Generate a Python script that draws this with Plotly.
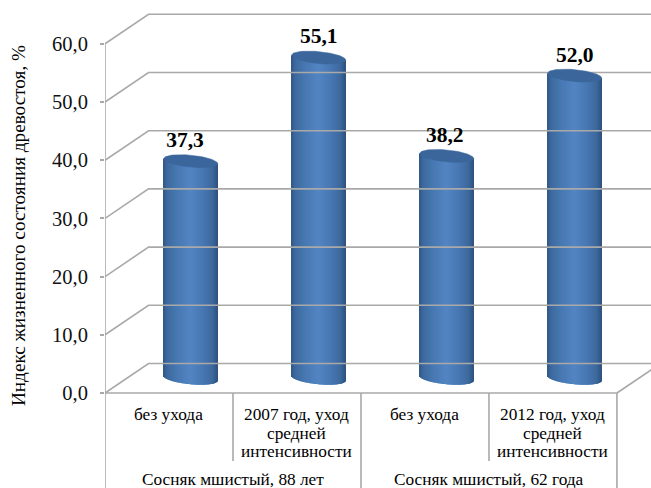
import numpy as np
import plotly.graph_objects as go

# Chart content
stand_labels = ["Сосняк мшистый, 88 лет", "Сосняк мшистый, 62 года"]
care_labels = [
    ["без ухода"],
    ["2007 год, уход", "средней", "интенсивности"],
    ["без ухода"],
    ["2012 год, уход", "средней", "интенсивности"],
]
vitality_index = [37.3, 55.1, 38.2, 52.0]
tick_values = [0, 10, 20, 30, 40, 50, 60]
tick_labels = ["0,0", "10,0", "20,0", "30,0", "40,0", "50,0", "60,0"]
y_title = "Индекс жизненного состояния древостоя, %"

# Pseudo-3D box: the back wall is offset from the front plane by this much
DEPTH_X = 0.34    # in category widths
DEPTH_Y = 5.07    # in index units
RADIUS = 0.211    # cylinder half width, category widths
RY = 1.03         # cap half height, index units
TILT = 0.43       # caps lean upward to the right by this much at the rim

SERIF = "Liberation Serif, Times New Roman, serif"
GRID = "#a9a9a9"
N = len(vitality_index)
X_MIN, X_MAX = -0.5, 3.766
Y_MIN, Y_MAX = -16.32, 67.53
LINE_STEP = 3.17  # spacing of category label lines, index units


def shade(u):
    """Horizontal cylinder shading for u in [-1, 1]."""
    stops_u = [-1.0, -0.85, -0.45, 0.0, 0.45, 0.85, 1.0]
    r = np.interp(u, stops_u, [47, 60, 72, 82, 72, 60, 44])
    g = np.interp(u, stops_u, [86, 105, 121, 132, 120, 103, 82])
    b = np.interp(u, stops_u, [132, 158, 180, 195, 180, 156, 128])
    return f"rgb({r:.0f},{g:.0f},{b:.0f})"


fig = go.Figure()


def line(xs, ys, width=1.6):
    fig.add_trace(go.Scatter(x=xs, y=ys, mode="lines", hoverinfo="skip",
                             line=dict(color=GRID, width=width), showlegend=False))


# Back wall grid and the diagonals that run back from the front axis
for v in tick_values:
    line([X_MIN, X_MIN + DEPTH_X, X_MAX], [v, v + DEPTH_Y, v + DEPTH_Y])

# Front axis, floor edge and right side of the floor
line([X_MIN, X_MIN], [0, 60])
line([X_MIN, N + X_MIN], [0, 0])
line([N + X_MIN, N + X_MIN + DEPTH_X], [0, DEPTH_Y])

# Category separators below the floor
for i in range(N + 1):
    bottom = Y_MIN if i % 2 == 0 else -11.7
    line([i + X_MIN, i + X_MIN], [0, bottom])

# Cylinders: each body is a run of thin shaded bars between the two caps
strips = 54
u = (np.arange(strips) + 0.5) / strips * 2 - 1
centers = [i + DEPTH_X / 2 for i in range(N)]
for cx, value in zip(centers, vitality_index):
    rim = np.sqrt(1 - u ** 2)
    low = DEPTH_Y / 2 - TILT * u - RY * rim
    high = DEPTH_Y / 2 + value - TILT * u
    fig.add_trace(go.Bar(
        x=cx + u * RADIUS, y=high - low, base=low,
        width=2 * RADIUS / strips * 1.25,
        marker=dict(color=[shade(t) for t in u], line_width=0),
        hoverinfo="skip", showlegend=False,
    ))
    t = np.linspace(0, 2 * np.pi, 90)
    fig.add_trace(go.Scatter(
        x=cx + RADIUS * np.cos(t),
        y=DEPTH_Y / 2 + value - TILT * np.cos(t) + RY * np.sin(t),
        mode="lines", fill="toself", fillcolor="#3a669b",
        line=dict(color="#3a669b", width=0.5), hoverinfo="skip", showlegend=False,
    ))

# Value labels above the cylinders
label_shift = [-0.045, 0.0, -0.015, 0.0]
fig.add_trace(go.Scatter(
    x=[c + s for c, s in zip(centers, label_shift)],
    y=[DEPTH_Y / 2 + v + 3.35 for v in vitality_index],
    text=[f"{v:.1f}".replace(".", ",") for v in vitality_index],
    mode="text", textposition="middle center", hoverinfo="skip", showlegend=False,
    textfont=dict(family=SERIF, size=21.5, color="black", weight="bold"),
))

annotations = []
for i, lines in enumerate(care_labels):
    for k, text in enumerate(lines):
        annotations.append(dict(x=i, y=-3.75 - k * LINE_STEP, text=text, showarrow=False,
                                xref="x", yref="y", yanchor="middle", xanchor="center",
                                font=dict(family=SERIF, size=17.3, color="black")))
for i, label in enumerate(stand_labels):
    annotations.append(dict(x=2 * i + 0.5, y=-14.9, text=label, showarrow=False,
                            xref="x", yref="y", yanchor="middle", xanchor="center",
                            font=dict(family=SERIF, size=17.3, color="black")))
# Vertical axis title, placed left of the tick labels (paper x is relative to the plot area)
annotations.append(dict(xref="paper", x=(18 - 105) / (651 - 105), yref="paper", y=1 - 226 / 488,
                        text=y_title, showarrow=False, textangle=-90,
                        xanchor="center", yanchor="middle",
                        font=dict(family=SERIF, size=19.2, color="black")))

fig.update_layout(
    width=651, height=488, autosize=False,
    margin=dict(l=105, r=0, t=0, b=0),
    paper_bgcolor="white", plot_bgcolor="white",
    barmode="overlay", showlegend=False,
    annotations=annotations,
    xaxis=dict(range=[X_MIN, X_MAX], visible=False, fixedrange=True),
    yaxis=dict(range=[Y_MIN, Y_MAX], tickvals=tick_values, ticktext=tick_labels,
               showgrid=False, zeroline=False, showline=False,
               ticks="outside", ticklen=4, tickcolor=GRID, tickwidth=1.5, ticklabelstandoff=8,
               tickfont=dict(family=SERIF, size=20.5, color="#111111"), fixedrange=True),
)
fig.write_html("out.html", config=dict(displayModeBar=False))
